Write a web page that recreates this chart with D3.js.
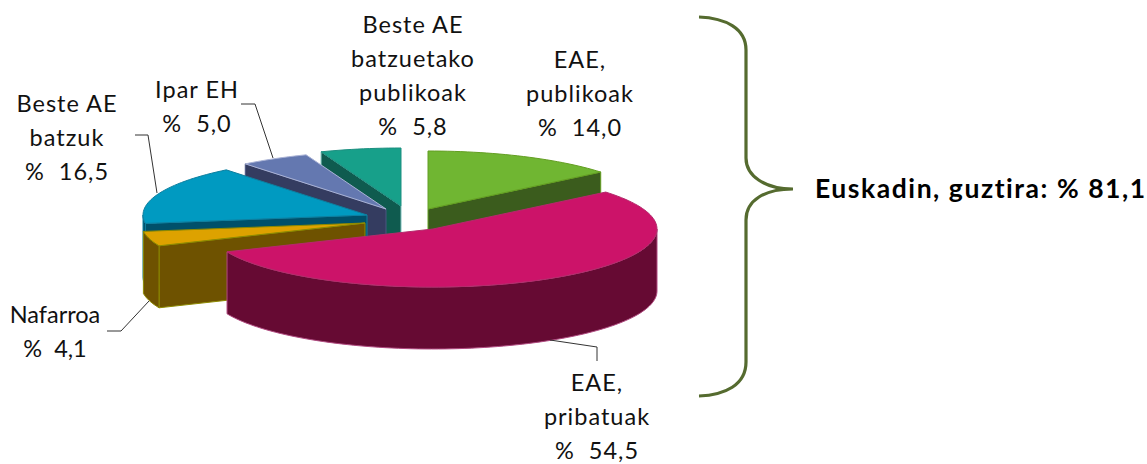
<!DOCTYPE html>
<html><head><meta charset="utf-8">
<script src="https://cdn.jsdelivr.net/npm/d3@7"></script>
<style>html,body{margin:0;padding:0;background:#fff;overflow:hidden}svg{display:block}
text{font-family:Lato,"Open Sans",sans-serif;fill:#111}</style></head><body>
<script>
const categories = ["EAE, publikoak","EAE, pribatuak","Nafarroa","Beste AE batzuk","Ipar EH","Beste AE batzuetako publikoak"];
const shares = [14.0,54.5,4.1,16.5,5.0,5.8];
const valueLabels = ["% 14,0","% 54,5","% 4,1","% 16,5","% 5,0","% 5,8"];
const topColors = ["#70b632","#cc1369","#dda200","#009ac1","#6478b0","#17a08a"];
const edgeColors = ["#639e22","#b52a6c","#8d8a00","#0e7f9f","#aab3d6","#1c8f80"];
const wallColors = ["#3b5c1d","#660a33","#6e5200","#00506a","#343c60","#0f5b4f"];
const wallEdges = ["#639e22","#b04a80","#8d8a00","#0e7f9f","#4a5580","#7cc0bc"];

const W=1147,H=464;
const svg=d3.select("body").append("svg").attr("width",W).attr("height",H);

// 3D tilt projection of the unit disc
const cx=433, cy=229, rx=224, ry=58, depth=62;
const px=d3.scaleLinear().domain([-1,1]).range([cx-rx,cx+rx]);
const py=d3.scaleLinear().domain([-1,1]).range([cy+ry,cy-ry]);
const explode=[[-5,-20],[0,0],[-68,-6],[-66,-14],[-47,-20],[-32,-23]];

const arcs=d3.pie().sort(null).value(d=>d)(shares);
const line=d3.line();
function rim(a0,a1,dx,dy,dz){
  const n=Math.max(2,Math.ceil((a1-a0)/0.03));
  return d3.range(n+1).map(i=>{const a=a0+(a1-a0)*i/n;
    return [px(Math.sin(a))+dx,py(Math.cos(a))+dy+dz];});
}
const order=[5,4,0,3,2,1];
order.forEach(i=>{
  const d=arcs[i],[dx,dy]=explode[i],g=svg.append("g");
  const ap=[px(0)+dx,py(0)+dy], ap2=[ap[0],ap[1]+depth];
  const edge=a=>[px(Math.sin(a))+dx,py(Math.cos(a))+dy];
  // only the cut faces turned towards the viewer are drawn
  const faces=[];
  if(Math.sin(d.startAngle)<-1e-6) faces.push(edge(d.startAngle));
  if(Math.sin(d.endAngle)>1e-6) faces.push(edge(d.endAngle));
  faces.forEach(e=>{
    g.append("path").attr("d",line([ap,e,[e[0],e[1]+depth],ap2])+"Z")
     .attr("fill",wallColors[i]).attr("stroke",wallEdges[i]).attr("stroke-width",1);
  });
  // front-facing part of the outer wall
  const f0=Math.max(d.startAngle,Math.PI/2), f1=Math.min(d.endAngle,3*Math.PI/2);
  if(f1>f0){
    const upper=rim(f0,f1,dx,dy,0), lower=rim(f0,f1,dx,dy,depth).reverse();
    g.append("path").attr("d",line(upper.concat(lower))+"Z")
     .attr("fill",wallColors[i]).attr("stroke",wallEdges[i]).attr("stroke-width",1);
  }
  g.append("path").attr("d",line([ap].concat(rim(d.startAngle,d.endAngle,dx,dy,0)))+"Z")
   .attr("fill",topColors[i]).attr("stroke",edgeColors[i]).attr("stroke-width",1);
});

// leader lines
const leaders=[[[550,340],[597,347],[597,361]],[[107,331],[121,331],[149,301]],[[135,135],[148,135],[157,193]],[[241,104],[255,104],[273,158]]];
svg.append("g").selectAll("path").data(leaders).join("path")
  .attr("d",d=>line(d)).attr("fill","none").attr("stroke","#333").attr("stroke-width",1);

// labels
const labelLines=[["EAE,","publikoak"],["EAE,","pribatuak"],["Nafarroa"],["Beste AE","batzuk"],["Ipar EH"],["Beste AE","batzuetako","publikoak"]];
const labelPos=[[580,68],[597,391],[55,323],[67,112],[197,98],[413,33]];
const spacing=[1,1,0,1,1,1];
labelLines.forEach((ls,i)=>{
  const t=svg.append("text").attr("text-anchor","middle").attr("font-size",23.5)
    .attr("letter-spacing",spacing[i]).attr("x",labelPos[i][0]).attr("y",labelPos[i][1]);
  ls.concat([valueLabels[i].replace(" ","\u00a0\u00a0")]).forEach((s,k)=>{
    t.append("tspan").attr("x",labelPos[i][0]).attr("y",labelPos[i][1]+k*34).text(s);
  });
});

// brace
const b=d3.path();
b.moveTo(699,17);b.bezierCurveTo(725,18,746,28,746,50);b.lineTo(746,158);
b.bezierCurveTo(746,176,765,189,793,189);b.bezierCurveTo(765,189,746,200,746,220);
b.lineTo(746,362);b.bezierCurveTo(746,385,725,395,699,396);
svg.append("path").attr("d",b.toString()).attr("fill","none").attr("stroke","#556b2f").attr("stroke-width",3.2);

svg.append("text").attr("x",815).attr("y",198).attr("font-size",26.5).attr("font-weight",700)
  .attr("letter-spacing",1.55).style("fill","#000").text("Euskadin, guztira: % 81,1");
</script></body></html>
